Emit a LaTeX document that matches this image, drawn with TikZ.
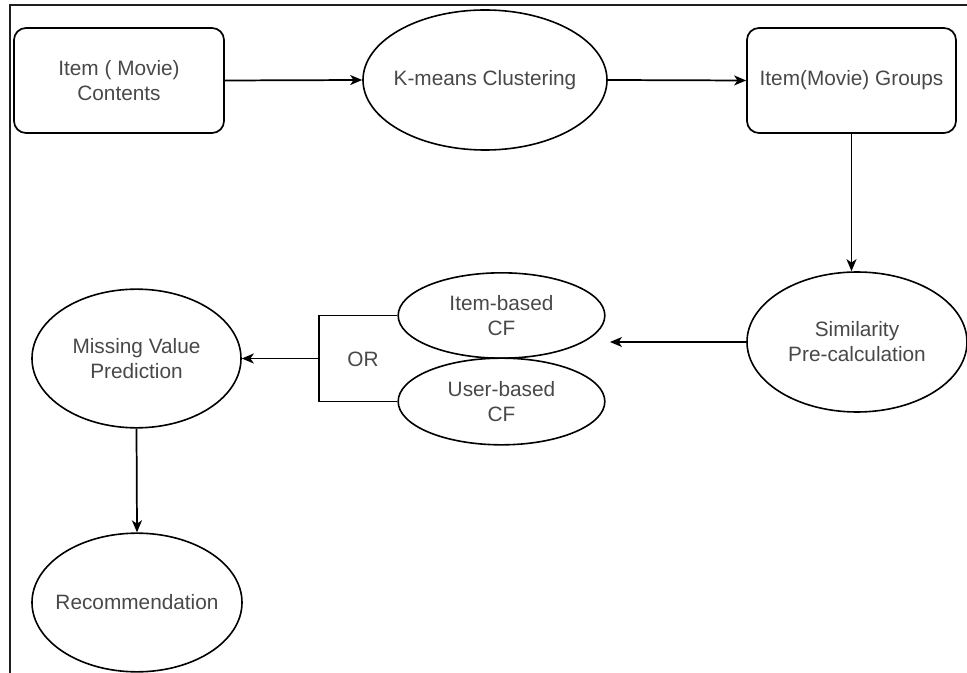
\documentclass[tikz,border=0pt]{standalone}
\usepackage{fontspec}
\setmainfont{Liberation Sans}
\usetikzlibrary{shapes.geometric,arrows.meta}
\definecolor{txt}{RGB}{72,72,72}
\definecolor{frame}{RGB}{30,30,30}
\tikzset{
  px/.style={x=0.75pt,y=-0.75pt},
  lbl/.style={font=\fontsize{15.6pt}{18.75pt}\selectfont,text=txt,align=center},
  boxnode/.style={draw,line width=1.3pt,rounded corners=9pt,inner sep=0pt},
  ellnode/.style={draw,line width=1.2pt,ellipse,inner sep=0pt},
  conn/.style={line width=1.3pt,-{Stealth[length=9pt,width=7.5pt,inset=2.5pt]}},
  plain/.style={line width=1.3pt},
}
\begin{document}
\begin{tikzpicture}[px]
\useasboundingbox (0,0) rectangle (967,673);
% frame
\draw[frame,line width=2pt] (10,673) -- (10,5) -- (967,5);
% nodes
\node[boxnode,minimum width=157.5pt,minimum height=78.75pt,
      label={[lbl]center:Item ( Movie)\\Contents}] (contents) at (119,80.5) {};
\node[ellnode,minimum width=183pt,minimum height=105pt,
      label={[lbl]center:K-means Clustering}] (kmeans) at (485,80) {};
\node[boxnode,minimum width=156.75pt,minimum height=78.75pt,
      label={[lbl]center:Item(Movie) Groups}] (groups) at (851.5,80.5) {};
\node[ellnode,minimum width=165pt,minimum height=105pt,
      label={[lbl]center:Similarity\\Pre-calculation}] (sim) at (857,342) {};
\node[ellnode,minimum width=155pt,minimum height=64pt,
      label={[lbl]center:Item-based\\CF}] (ib) at (501.5,315.5) {};
\node[ellnode,minimum width=155pt,minimum height=65pt,
      label={[lbl]center:User-based\\CF}] (ub) at (501.5,401.5) {};
\node[ellnode,minimum width=156.75pt,minimum height=104pt,
      label={[lbl]center:Missing Value\\Prediction}] (mv) at (136.5,358.5) {};
\node[ellnode,minimum width=157.5pt,minimum height=104pt,
      label={[lbl]center:Recommendation}] (rec) at (137,602.5) {};
\node[lbl] (or) at (363,359) {OR};
\coordinate (simend) at (610,342);
\coordinate (orj) at (319,358.5);
% connectors
\draw[conn] (contents.east) -- (kmeans.west);
\draw[conn] (kmeans.east) -- (groups.west);
\draw[conn] (groups.south) -- (groups.south |- sim.north);
\draw[conn] (sim.west) -- (simend);
\draw[plain] (ib.west) -| (orj) |- (ub.west);
\draw[conn] (orj) -- (mv.east);
\draw[conn] (mv.south) -- (rec.north);
\end{tikzpicture}
\end{document}
